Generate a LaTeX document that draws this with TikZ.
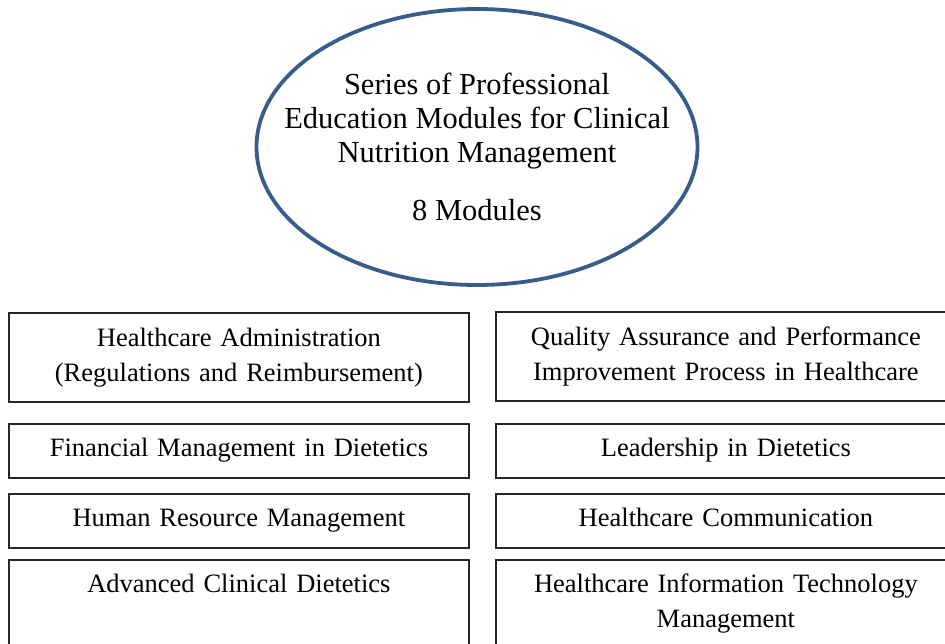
\documentclass[tikz,border=0pt]{standalone}
\usepackage{fontspec}
\setmainfont{Liberation Serif}
\usepackage{xcolor}
\usetikzlibrary{shapes.geometric}
\definecolor{ovalblue}{RGB}{56,93,138}

\begin{document}
\begin{tikzpicture}[x=1pt, y=-1pt,
    oval/.style={draw=ovalblue, line width=3.8pt, ellipse, minimum width=441pt, minimum height=276pt, inner xsep=-40pt, inner ysep=0pt, align=center, font=\fontsize{30.5}{34}\selectfont},
    modbox/.style={draw=black!85, line width=1.8pt, anchor=north west, minimum width=460pt, text width=440pt, inner xsep=10pt, inner ysep=15pt, text height=18pt, align=center, font=\fontsize{26.5}{35}\selectfont},
    oneline/.style={text depth=6pt},
    lastrow/.style={text depth=60pt}
]
\useasboundingbox (0,0) rectangle (945,644);
\fill[white] (0,0) rectangle (945,644);
\clip (0,0) rectangle (945,644);
\node[oval] (series) at (477,147) {Series of Professional\\Education Modules for Clinical\\Nutrition Management\\[24pt]8 Modules};
\node[modbox, minimum height=89pt] (admin) at (8,312) {Healthcare Administration\\(Regulations and Reimbursement)};
\node[modbox, minimum height=89pt] (quality) at (495,311) {Quality Assurance and Performance\\Improvement Process in Healthcare};
\node[modbox, oneline, minimum height=52pt] (finance) at (8,423) {Financial Management in Dietetics};
\node[modbox, oneline, minimum height=51pt] (leader) at (495,423) {Leadership in Dietetics};
\node[modbox, oneline, minimum height=50pt] (hrm) at (8,493) {Human Resource Management};
\node[modbox, oneline, minimum height=50pt] (comm) at (495,493) {Healthcare Communication};
\node[modbox, lastrow] (clinical) at (8,559) {Advanced Clinical Dietetics};
\node[modbox, lastrow] (infotech) at (495,559) {Healthcare Information Technology\\Management};
\end{tikzpicture}
\end{document}
